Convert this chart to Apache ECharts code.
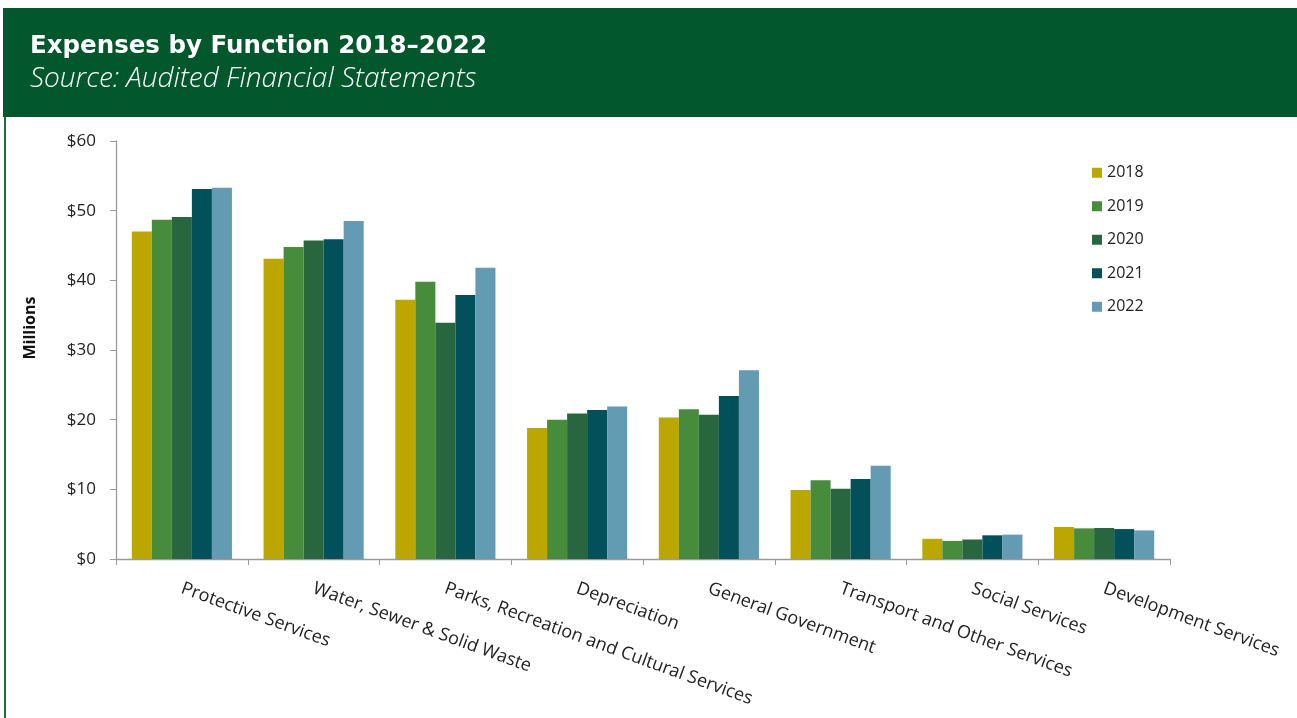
<!DOCTYPE html>
<html>
<head>
<meta charset="utf-8">
<title>Expenses by Function 2018–2022</title>
<script src="https://cdn.jsdelivr.net/npm/echarts@6/dist/echarts.min.js"></script>
<style>
  html, body { margin: 0; padding: 0; background: #ffffff; }
  #chart { width: 1297px; height: 718px; }
</style>
</head>
<body>
<div id="chart"></div>
<script>
// Expense functions (x-axis categories)
const categories = [
  'Protective Services',
  'Water, Sewer & Solid Waste',
  'Parks, Recreation and Cultural Services',
  'Depreciation',
  'General Government',
  'Transport and Other Services',
  'Social Services',
  'Development Services'
];

// Fiscal years shown in the legend
const years = ['2018', '2019', '2020', '2021', '2022'];

// Expenses in millions of dollars, one array per year, in category order
const values2018 = [47.0, 43.1, 37.2, 18.8, 20.3, 9.9, 2.9, 4.6];
const values2019 = [48.7, 44.8, 39.8, 20.0, 21.5, 11.3, 2.6, 4.4];
const values2020 = [49.1, 45.7, 33.9, 20.9, 20.7, 10.1, 2.8, 4.45];
const values2021 = [53.1, 45.9, 37.9, 21.4, 23.4, 11.5, 3.4, 4.3];
const values2022 = [53.3, 48.5, 41.8, 21.9, 27.1, 13.4, 3.5, 4.1];

// Value axis tick labels
const yTicks = [0, 10, 20, 30, 40, 50, 60];

const seriesValues = [values2018, values2019, values2020, values2021, values2022];
const yearColors = ['#bca700', '#478c3b', '#28663f', '#02505a', '#629bb2'];

const LABEL_FONT = '"Open Sans", "Noto Sans", sans-serif';
const TITLE_FONT = '"DejaVu Sans", "Open Sans", sans-serif';
const SUBTITLE_FONT = '"Open Sans", "Noto Sans", sans-serif';

const chart = echarts.init(document.getElementById('chart'), null, { renderer: 'canvas' });

const option = {
  backgroundColor: '#ffffff',
  animation: false,
  graphic: [
    // header band
    { type: 'rect', left: 3, top: 8, shape: { width: 1294, height: 109 }, style: { fill: '#03572d' }, z: 0 },
    // frame line down the left side
    { type: 'rect', left: 4, top: 117, shape: { width: 2, height: 601 }, style: { fill: '#1b6b3b' }, z: 0 },
    {
      type: 'text', left: 30, top: 34, z: 10,
      style: { text: 'Expenses by Function 2018–2022', fill: '#ffffff', font: 'bold 24.5px ' + TITLE_FONT }
    },
    {
      type: 'text', left: 30, top: 65, z: 10,
      style: { text: 'Source: Audited Financial Statements', fill: '#ffffff', font: 'italic 300 28px ' + SUBTITLE_FONT }
    },
    // value axis title
    {
      type: 'text', x: 30, y: 328, rotation: Math.PI / 2, z: 10,
      style: {
        text: 'Millions', align: 'center', verticalAlign: 'middle',
        fill: '#111111', font: 'bold 16px ' + LABEL_FONT
      }
    }
  ],
  grid: { left: 116, right: 127, top: 141, bottom: 159, containLabel: false },
  legend: {
    data: years,
    orient: 'vertical',
    left: 1087,
    top: 158,
    icon: 'rect',
    itemWidth: 10,
    itemHeight: 10,
    itemGap: 14,
    textStyle: { fontFamily: LABEL_FONT, fontSize: 16, color: '#222222', lineHeight: 19.5 }
  },
  xAxis: {
    type: 'category',
    data: categories,
    boundaryGap: true,
    axisLine: { lineStyle: { color: '#9a9a9a', width: 1.3 } },
    axisTick: { show: true, length: 6, inside: false, lineStyle: { color: '#9a9a9a' } },
    axisLabel: {
      interval: 0,
      rotate: -20,
      margin: 29,
      fontFamily: LABEL_FONT,
      fontSize: 18,
      color: '#222222'
    },
    splitLine: { show: false }
  },
  yAxis: {
    type: 'value',
    min: yTicks[0],
    max: yTicks[yTicks.length - 1],
    interval: 10,
    axisLine: { show: true, lineStyle: { color: '#9a9a9a', width: 1.3 } },
    axisTick: { show: true, length: 6, inside: false, lineStyle: { color: '#9a9a9a' } },
    axisLabel: {
      margin: 20,
      fontFamily: LABEL_FONT,
      fontSize: 17,
      color: '#222222',
      formatter: v => '$' + v
    },
    splitLine: { show: false }
  },
  series: years.map((y, i) => ({
    name: y,
    type: 'bar',
    data: seriesValues[i],
    barGap: '0%',
    barCategoryGap: '24%',
    itemStyle: { color: yearColors[i] },
    emphasis: { disabled: true }
  }))
};

chart.setOption(option);
</script>
</body>
</html>
